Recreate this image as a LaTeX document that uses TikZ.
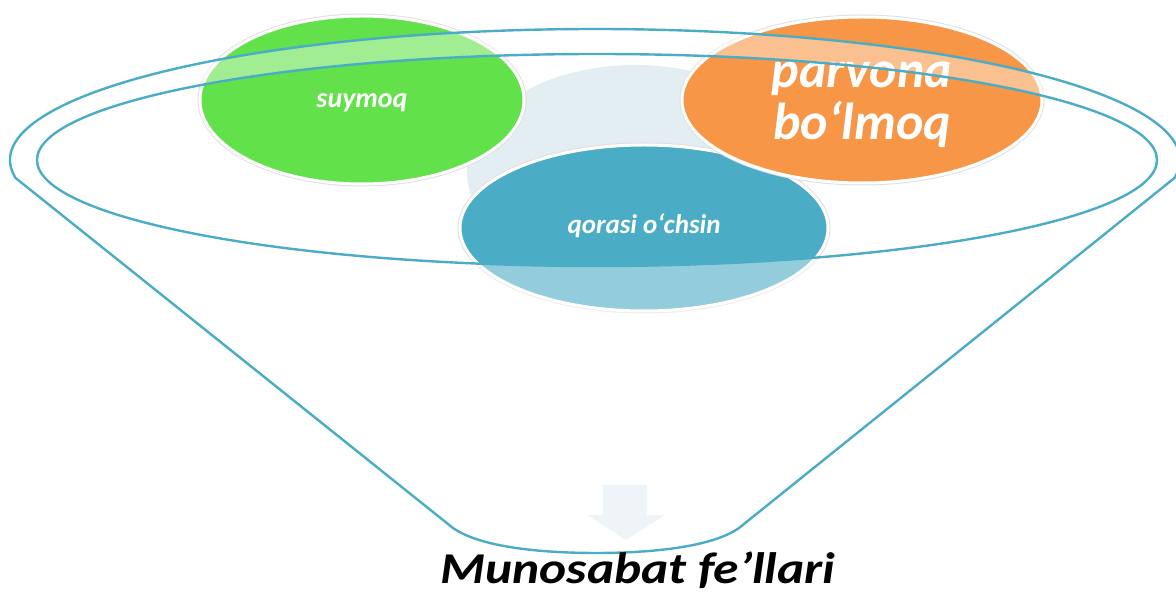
\documentclass[tikz,border=0pt]{standalone}
\usepackage{fontspec}
\setmainfont{Carlito}
\usetikzlibrary{shapes.geometric}
\definecolor{rimblue}{HTML}{4BACC6}
\definecolor{leafgreen}{HTML}{62E14A}
\definecolor{peelorange}{HTML}{F79646}
\definecolor{mistblue}{HTML}{E3EEF3}

\begin{document}
\begin{tikzpicture}[x=1pt, y=1pt, line join=round,
  bubble/.style={ellipse, inner sep=0pt, text=white, draw=white, line width=3pt, preaction={draw=black!12, line width=5pt}},
  rim/.style={draw=rimblue, line width=2.4pt}]
  \useasboundingbox (0,0) rectangle (1176,592);
  \node[ellipse, fill=mistblue, minimum width=336pt, minimum height=214pt] (haze) at (635,420) {};
  \node[bubble, fill=rimblue, minimum width=368pt, minimum height=166pt, text height=12pt, text depth=0pt, font=\bfseries\itshape\fontsize{27}{30}\selectfont] (qorasi) at (644,364) {qorasi o‘chsin};
  \node[bubble, fill=leafgreen, minimum width=324pt, minimum height=168pt, text height=16pt, text depth=0pt, font=\bfseries\itshape\fontsize{28}{30}\selectfont] (suymoq) at (362,492) {suymoq};
  \node[bubble, fill=peelorange, minimum width=360pt, minimum height=166pt, align=center, text height=80pt, text depth=0pt, font=\bfseries\itshape\fontsize{52}{52}\selectfont] (parvona) at (862,492) {parvona\\bo‘lmoq};
  \path[fill=mistblue] (603,107) -- (647,107) -- (647,77) -- (665,77) -- (626,52) -- (587,77) -- (603,77) -- cycle;
  \path[rim, fill=white, fill opacity=0.4, even odd rule] (595,432) ++(187.9:585 and 131) arc[start angle=187.9, end angle=-7.9, x radius=585, y radius=131] -- (739,64) .. controls (712,45) and (652,39) .. (596,39) .. controls (540,39) and (480,45) .. (453,64) -- cycle (597,432) ellipse[x radius=560, y radius=106];
  \node[anchor=base, font=\bfseries\itshape\fontsize{44}{48}\selectfont] (fellar) at (638,9) {\scalebox{1.17}[1]{Munosabat fe’llari}};
\end{tikzpicture}
\end{document}
